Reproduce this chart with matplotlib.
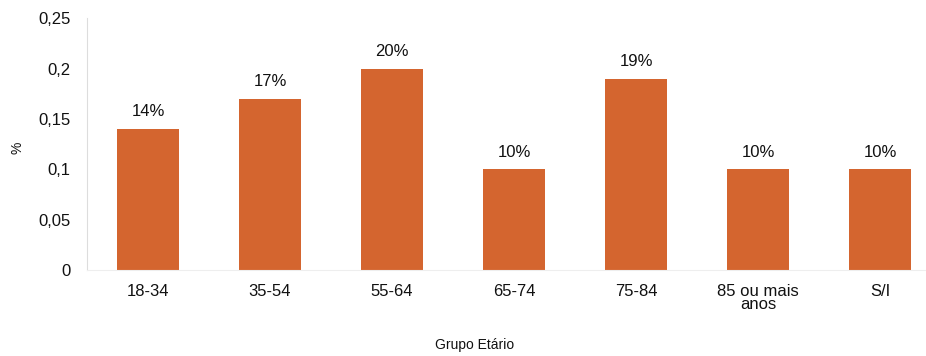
import numpy as np
import matplotlib
matplotlib.use('Agg')
import matplotlib.pyplot as plt

# data
groups = ['18-34', '35-54', '55-64', '65-74', '75-84', '85 ou mais\nanos', 'S/I']
values = [0.14, 0.17, 0.20, 0.10, 0.19, 0.10, 0.10]
labels = ['14%', '17%', '20%', '10%', '19%', '10%', '10%']
yticks = [0, 0.05, 0.1, 0.15, 0.2, 0.25]
ytick_labels = ['0', '0,05', '0,1', '0,15', '0,2', '0,25']

BAR_COLOR = '#D4652F'
TXT = '#111111'

plt.rcParams['font.family'] = ['Liberation Sans', 'DejaVu Sans']

fig = plt.figure(figsize=(9.26, 3.56), dpi=100)
ax = fig.add_axes([0.094, 0.2416, 0.906, 0.7074])

x = np.arange(len(groups))
bars = ax.bar(x, values, width=0.51, color=BAR_COLOR)

for b, lab in zip(bars, labels):
    ax.annotate(lab, xy=(b.get_x() + b.get_width() / 2, b.get_height()),
                xytext=(0, 7), textcoords='offset points',
                ha='center', va='bottom', fontsize=12, color=TXT)

ax.set_xlim(-0.5, 6.377)
ax.set_ylim(0, 0.25)
ax.set_yticks(yticks)
ax.set_yticklabels(ytick_labels, fontsize=12, color=TXT)
ax.set_xticks(x)
ax.set_xticklabels(groups, fontsize=12, color=TXT, linespacing=0.85)
ax.tick_params(axis='both', length=0, pad=10)
ax.tick_params(axis='y', pad=12)

for side in ['top', 'right']:
    ax.spines[side].set_visible(False)
ax.spines['left'].set_color('#dddddd')
ax.spines['bottom'].set_color('#eeeeee')

fig.text(18 / 926, 1 - 148 / 356, '%', rotation=90, fontsize=10,
         ha='center', va='center', color=TXT)
fig.text(475 / 926, 1 - 345 / 356, 'Grupo Etário', fontsize=10,
         ha='center', va='center', color=TXT)

fig.savefig('out.png', dpi=100, facecolor='white')
